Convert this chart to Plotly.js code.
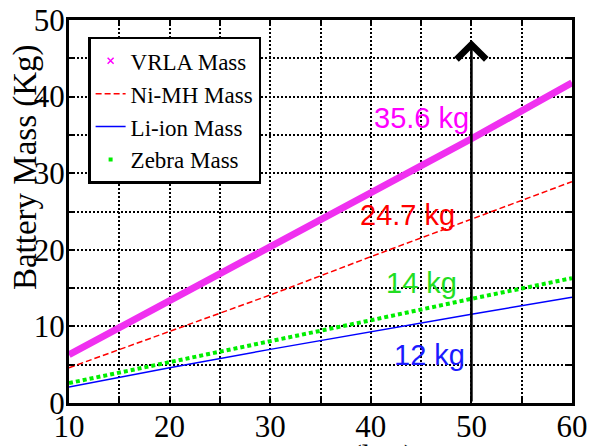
<!DOCTYPE html>
<html>
<head>
<meta charset="utf-8">
<script src="https://cdn.plot.ly/plotly-3.0.1.min.js"></script>
<style>html,body{margin:0;padding:0;background:#fff;}#chart{width:597px;height:446px;}</style>
</head>
<body>
<div id="chart"></div>
<script>
// Distance (km)
const distance = [10, 20, 30, 40, 50, 60];
// Battery mass (kg) per technology
const vrlaMass  = [6.3, 13.3, 20.3, 27.3, 34.5, 41.8];
const nimhMass  = [4.6, 9.3, 14.1, 19.1, 24.0, 28.9];
const liionMass = [2.1, 4.6, 7.0, 9.3, 11.6, 13.8];
const zebraMass = [2.6, 5.3, 8.0, 10.8, 13.6, 16.3];

const seriesNames = ["VRLA Mass", "Ni-MH Mass", "Li-ion Mass", "Zebra Mass"];
const xTickVals = [10, 15, 20, 25, 30, 35, 40, 45, 50, 55, 60];
const xTickText = ["10", "", "20", "", "30", "", "40", "", "50", "", "60"];
const yTickVals = [0, 5, 10, 15, 20, 25, 30, 35, 40, 45, 50];
const yTickText = ["0", "", "10", "", "20", "", "30", "", "40", "", "50"];

// Callouts at 50 km
const calloutText = ["35.6 kg", "24.7 kg", "14 kg", "12 kg"];
const calloutX = [45.0, 43.6, 45.0, 45.8];
const calloutY = [37.2, 24.5, 15.7, 6.3];
const calloutColor = ["#ff00ff", "#ff0000", "#22dd22", "#1a1aff"];
const markerDistance = 50;
const arrowTop = 47.4;

const serif = "Liberation Serif, Times New Roman, serif";
const sans = "Liberation Sans, Arial, sans-serif";

const traces = [
  {x: distance, y: vrlaMass, mode: "lines", line: {color: "#f030f0", width: 7}, showlegend: false, legendgroup: "vrla", hoverinfo: "skip"},
  {x: distance, y: zebraMass, mode: "lines", line: {color: "#00ee00", width: 4, dash: "4px,3px"}, showlegend: false, legendgroup: "zebra", hoverinfo: "skip"},
  {x: distance, y: nimhMass, mode: "lines", name: seriesNames[1], line: {color: "#ff0000", width: 1.5, dash: "6px,3px"}},
  {x: distance, y: liionMass, mode: "lines", name: seriesNames[2], line: {color: "#0000ff", width: 1.5}},
  {x: [null], y: [null], mode: "markers", name: seriesNames[0], legendgroup: "vrla", marker: {symbol: "x-thin", size: 6, color: "#ff00ff", line: {color: "#ff00ff", width: 1.5}}},
  {x: [null], y: [null], mode: "markers", name: seriesNames[3], legendgroup: "zebra", marker: {symbol: "square", size: 4, color: "#00ee00"}}
];
// legend order: VRLA, Ni-MH, Li-ion, Zebra
traces[4].legendrank = 1; traces[2].legendrank = 2; traces[3].legendrank = 3; traces[5].legendrank = 4;

const annotations = calloutText.map((t, i) => ({
  x: calloutX[i], y: calloutY[i], xref: "x", yref: "y", text: t, showarrow: false,
  font: {family: sans, size: 29, color: calloutColor[i]}
}));
annotations.push({
  x: markerDistance, y: arrowTop, ax: markerDistance, ay: 0, xref: "x", yref: "y", axref: "x", ayref: "y",
  text: "", showarrow: true, arrowhead: 4, arrowsize: 2.2, arrowwidth: 2.6, arrowcolor: "#000"
});
annotations.push({
  x: -0.0875, y: 0.616, xref: "paper", yref: "paper", text: "Battery Mass (Kg)", textangle: -90,
  showarrow: false, xanchor: "center", yanchor: "middle", font: {family: serif, size: 33, color: "#000"}
});
annotations.push({
  x: 0.5, y: -0.088, xref: "paper", yref: "paper", text: "Distance (km)",
  showarrow: false, xanchor: "center", yanchor: "top", font: {family: serif, size: 33, color: "#000"}
});

const axisCommon = {
  showgrid: true, gridcolor: "#000", gridwidth: 2, griddash: "2px,2px",
  showline: true, linecolor: "#000", linewidth: 3, mirror: "ticks",
  ticks: "inside", ticklen: 5, tickwidth: 2, tickcolor: "#000",
  zeroline: false, tickmode: "array",
  tickfont: {family: serif, size: 31, color: "#000"}
};

const layout = {
  width: 597, height: 446,
  margin: {l: 69, r: 25, t: 20, b: 43},
  paper_bgcolor: "#fff", plot_bgcolor: "#fff",
  xaxis: Object.assign({}, axisCommon, {range: [10, 60], tickvals: xTickVals, ticktext: xTickText, ticklabelstandoff: -6}),
  yaxis: Object.assign({}, axisCommon, {range: [0, 50], tickvals: yTickVals, ticktext: yTickText, ticklabelstandoff: -5}),
  showlegend: true,
  legend: {
    x: 0.038, y: 0.956, xanchor: "left", yanchor: "top",
    bgcolor: "#fff", bordercolor: "#000", borderwidth: 2.5,
    font: {family: serif, size: 23, color: "#000"}, itemwidth: 30, tracegroupgap: 0
  },
  annotations: annotations
};

Plotly.newPlot("chart", traces, layout, {staticPlot: true, displayModeBar: false});
</script>
</body>
</html>
